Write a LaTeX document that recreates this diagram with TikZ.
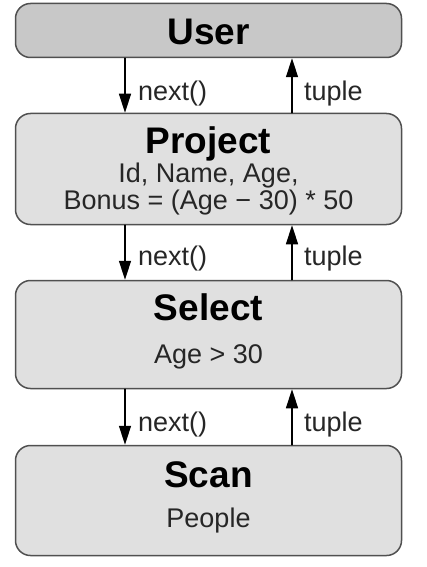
\documentclass[tikz,border=0pt]{standalone}
\usepackage{fontspec}
\setmainfont{Liberation Sans}
\usepackage{tikz}
\usetikzlibrary{arrows.meta,positioning}
\definecolor{boxline}{HTML}{505050}
\definecolor{userfill}{HTML}{C8C8C8}
\definecolor{opfill}{HTML}{E0E0E0}
\tikzset{
  every picture/.style={line join=round, line cap=round, >={Triangle[width=12pt,length=19pt]}},
  opbox/.style={draw=boxline, fill=opfill, line width=1.5pt, rounded corners=15pt, minimum width=386pt, inner sep=0pt},
  optitle/.style={font=\fontsize{37}{40}\selectfont\bfseries, inner sep=0pt},
  optext/.style={font=\fontsize{27}{27}\selectfont, inner sep=0pt, text=black!85},
  flow/.style={->, line width=1.5pt},
}

\begin{document}
\begin{tikzpicture}[x=1pt,y=-1pt]
\useasboundingbox (0,0) rectangle (427,567);
\node[opbox,fill=userfill,minimum height=54pt](user)at(208.5,30.5){};
\node[opbox,minimum height=111pt](project)at(208.5,169){};
\node[opbox,minimum height=108pt](select)at(208.5,334.5){};
\node[opbox,minimum height=110pt](scan)at(208.5,500.5){};
\node[optitle,anchor=base](usertitle)at(208.5,45){User};
\node[optitle,anchor=base](projecttitle)at(208.5,153){Project};
\node[optext,align=center,anchor=north](projectcols)at(208.5,163){Id, Name, Age,\\Bonus = (Age − 30) * 50};
\node[optitle,anchor=base](selecttitle)at(208.5,320){Select};
\node[optext,anchor=base](selectcond)at(208.5,363){Age > 30};
\node[optitle,anchor=base](scantitle)at(208.5,487){Scan};
\node[optext,anchor=base](scantable)at(208.5,527){People};
%user <-> project
\draw[flow]([xshift=-83.5pt]user.south)--([xshift=-83.5pt]project.north);
\draw[flow]([xshift=83.5pt]project.north)--([xshift=83.5pt]user.south);
\node[optext,anchor=base west](next1)at([xshift=-70.5pt,yshift=12.5pt]project.north){next()};
\node[optext,anchor=base west](tuple1)at([xshift=95.5pt,yshift=12.5pt]project.north){tuple};
%project <-> select
\draw[flow]([xshift=-83.5pt]project.south)--([xshift=-83.5pt]select.north);
\draw[flow]([xshift=83.5pt]select.north)--([xshift=83.5pt]project.south);
\node[optext,anchor=base west](next2)at([xshift=-70.5pt,yshift=14.5pt]select.north){next()};
\node[optext,anchor=base west](tuple2)at([xshift=95.5pt,yshift=14.5pt]select.north){tuple};
%select <-> scan
\draw[flow]([xshift=-83.5pt]select.south)--([xshift=-83.5pt]scan.north);
\draw[flow]([xshift=83.5pt]scan.north)--([xshift=83.5pt]select.south);
\node[optext,anchor=base west](next3)at([xshift=-70.5pt,yshift=13.5pt]scan.north){next()};
\node[optext,anchor=base west](tuple3)at([xshift=95.5pt,yshift=13.5pt]scan.north){tuple};
\end{tikzpicture}
\end{document}
